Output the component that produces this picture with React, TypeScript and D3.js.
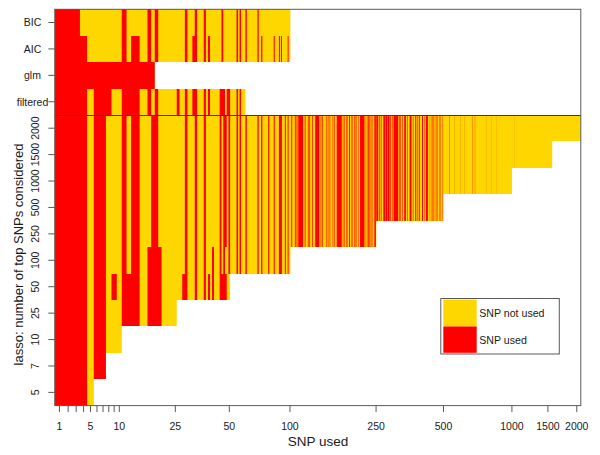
import React from "react";
import * as d3 from "d3";

type Run = [number, number];

const panelRows = ["BIC", "AIC", "glm", "filtered"];
const lassoRows = ["2000", "1500", "1000", "500", "250", "100", "50", "25", "10", "7", "5"];

const rowLimits: Record<string, number> = {
  BIC: 100, AIC: 100, glm: 18, filtered: 60,
  "2000": 2000, "1500": 1500, "1000": 1000, "500": 500, "250": 250,
  "100": 100, "50": 50, "25": 25, "10": 10, "7": 7, "5": 5,
};

const bicUsed: Run[] = [[1,3],[11,11],[17,17],[19,19],[29,29],[33,33],[37,37],[46,46],[55,55],[57,57],[61,61],[70,70]];
const aicUsed: Run[] = [[1,4],[11,11],[13,14],[17,17],[19,19],[29,29],[32,33],[37,37],[39,39],[46,46],[55,55],[57,57],[61,61],[70,70],[73,73],[84,84],[89,89],[91,91],[98,98]];
const glmUsed: Run[] = [[1,18]];
const filteredUsed: Run[] = [[1,4],[6,8],[11,14],[17,17],[19,19],[26,26],[29,29],[32,33],[37,37],[39,39],[45,47],[49,50],[55,55],[57,57]];

const lassoTallUsed: Run[] = [
  [1,4],[6,7],[11,11],[13,14],[18,19],[29,29],[33,33],[37,37],[45,45],[47,48],[50,50],[55,55],[57,57],[61,61],[70,70],[73,73],[79,79],[84,84],[89,91],[95,95],[98,98],
  [102,102],[106,106],[108,108],[110,115],[118,118],[122,122],[124,124],[128,128],[132,137],[140,140],[142,142],[148,148],[151,151],[154,154],[159,159],[162,162],[166,174],[177,177],[180,180],[184,184],[186,186],[189,190],[193,193],[196,196],[200,201],[204,204],[208,208],[212,221],[225,225],[228,228],[231,232],[234,235],[238,238],[241,241],
  [246,249],[251,255],[258,259],[263,264],[270,274],[276,280],[282,287],[290,291],[295,296],[300,314],[318,319],[322,323],[328,329],[335,340],[345,346],[354,360],[366,367],[375,378],[383,384],[389,392],[402,405],[411,412],[418,426],
  [433,433],[440,441],[446,447],[452,453],[458,459],[464,465],[471,472],[478,479],[486,487],[494,495],
  [531,532],[559,559],[594,594],[617,617],[671,672],[685,685],[690,690],[771,771],[810,810],[853,853],[1022,1022],
];
const lasso100Used: Run[] = [[1,4],[6,7],[11,11],[13,14],[17,20],[29,29],[33,33],[37,37],[41,41],[45,45],[47,47],[50,50],[55,55],[57,57],[61,61],[70,70],[73,73],[79,79],[84,84],[89,91],[95,95],[98,98]];
const lasso50Used: Run[] = [[1,4],[6,7],[9,9],[11,14],[17,20],[28,29],[33,33],[37,37],[39,39],[41,41],[45,48]];
const lasso25Used: Run[] = [[1,4],[6,7],[11,14],[17,20]];
const lasso10Used: Run[] = [[1,4],[6,7]];
const lasso7Used: Run[] = [[1,4],[6,7]];
const lasso5Used: Run[] = [[1,4]];

const usedByRow: Record<string, Run[]> = {
  BIC: bicUsed, AIC: aicUsed, glm: glmUsed, filtered: filteredUsed,
  "2000": lassoTallUsed, "1500": lassoTallUsed, "1000": lassoTallUsed, "500": lassoTallUsed, "250": lassoTallUsed,
  "100": lasso100Used, "50": lasso50Used, "25": lasso25Used, "10": lasso10Used, "7": lasso7Used, "5": lasso5Used,
};

const xTickValues = [1, 2, 3, 4, 5, 6, 7, 8, 9, 10, 25, 50, 100, 250, 500, 1000, 1437, 1921];
const xTickLabels = ["1", "", "", "", "5", "", "", "", "", "10", "25", "50", "100", "250", "500", "1000", "1500", "2000"];

const GOLD = "#FFD700";
const RED = "#FF0000";
const INK = "#1a1a1a";
const LINE = "#5a5a5a";
const FONT = "'Liberation Sans', Arial, sans-serif";

const left = 54.8, right = 580.8, top = 9.3, bottom = 405.6;
const allRows = [...panelRows, ...lassoRows];

const log = d3.scaleLog().domain([10.5, 2010]).range([left, right]);
const x = (v: number) => log(Math.min(v, 2000) + 10);
const y = d3.scaleBand<string>().domain(allRows).range([top, bottom]);

export default function App() {
  const band = y.bandwidth();
  const divider = Math.round(y("2000")!) + 0.5;
  return (
    <svg width={600} height={455} style={{ position: "absolute", left: 0, top: 0, background: "#fff" }} fontFamily={FONT}>
      {allRows.map((row) => {
        const y0 = Math.round(y(row)!);
        const h = Math.round(y(row)! + band) - y0;
        return (
          <g key={row}>
            <rect x={left} y={y0} width={x(rowLimits[row] + 0.5) - left} height={h} fill={GOLD} />
            {usedByRow[row]
              .filter(([a]) => a <= rowLimits[row])
              .map(([a, b]) => {
                const x0 = Math.max(x(a - 0.5), left);
                return <rect key={a} x={x0} y={y0} width={x(b + 0.5) - x0} height={h} fill={RED} />;
              })}
          </g>
        );
      })}
      <line x1={left} x2={right} y1={divider} y2={divider} stroke="#3c3c3c" />
      <rect x={left} y={top} width={right - left} height={bottom - top} fill="none" stroke={LINE} />

      {allRows.map((row) => {
        const yc = y(row)! + band / 2;
        const isPanel = panelRows.includes(row);
        return (
          <g key={row}>
            <line x1={left - 6.5} x2={left} y1={yc} y2={yc} stroke={LINE} />
            {isPanel ? (
              <text x={32.5} y={yc + 3.8} fontSize={10.5} textAnchor="middle" fill={INK}>{row}</text>
            ) : (
              <text transform={`translate(38.5,${yc}) rotate(-90)`} fontSize={10.5} textAnchor="middle" fill={INK}>{row}</text>
            )}
          </g>
        );
      })}

      {xTickValues.map((v, i) => (
        <g key={v}>
          <line x1={x(v)} x2={x(v)} y1={bottom} y2={bottom + 6.5} stroke={LINE} />
          {xTickLabels[i] && (
            <text x={x(v)} y={430} fontSize={10.5} textAnchor="middle" fill={INK}>{xTickLabels[i]}</text>
          )}
        </g>
      ))}

      <text x={318} y={446} fontSize={13.5} textAnchor="middle" fill={INK}>SNP used</text>
      <text transform="translate(22.5,254.5) rotate(-90)" fontSize={13} textAnchor="middle" fill={INK}>lasso: number of top SNPs considered</text>

      <g>
        <rect x={440.8} y={298.5} width={118.5} height={55.5} fill="#fff" stroke={LINE} />
        <rect x={443.3} y={299.5} width={33.4} height={27} fill={GOLD} />
        <rect x={443.3} y={326.5} width={33.4} height={26.3} fill={RED} />
        <text x={479.3} y={317.3} fontSize={10.6} fill={INK}>SNP not used</text>
        <text x={479.3} y={343.7} fontSize={10.6} fill={INK}>SNP used</text>
      </g>
    </svg>
  );
}
